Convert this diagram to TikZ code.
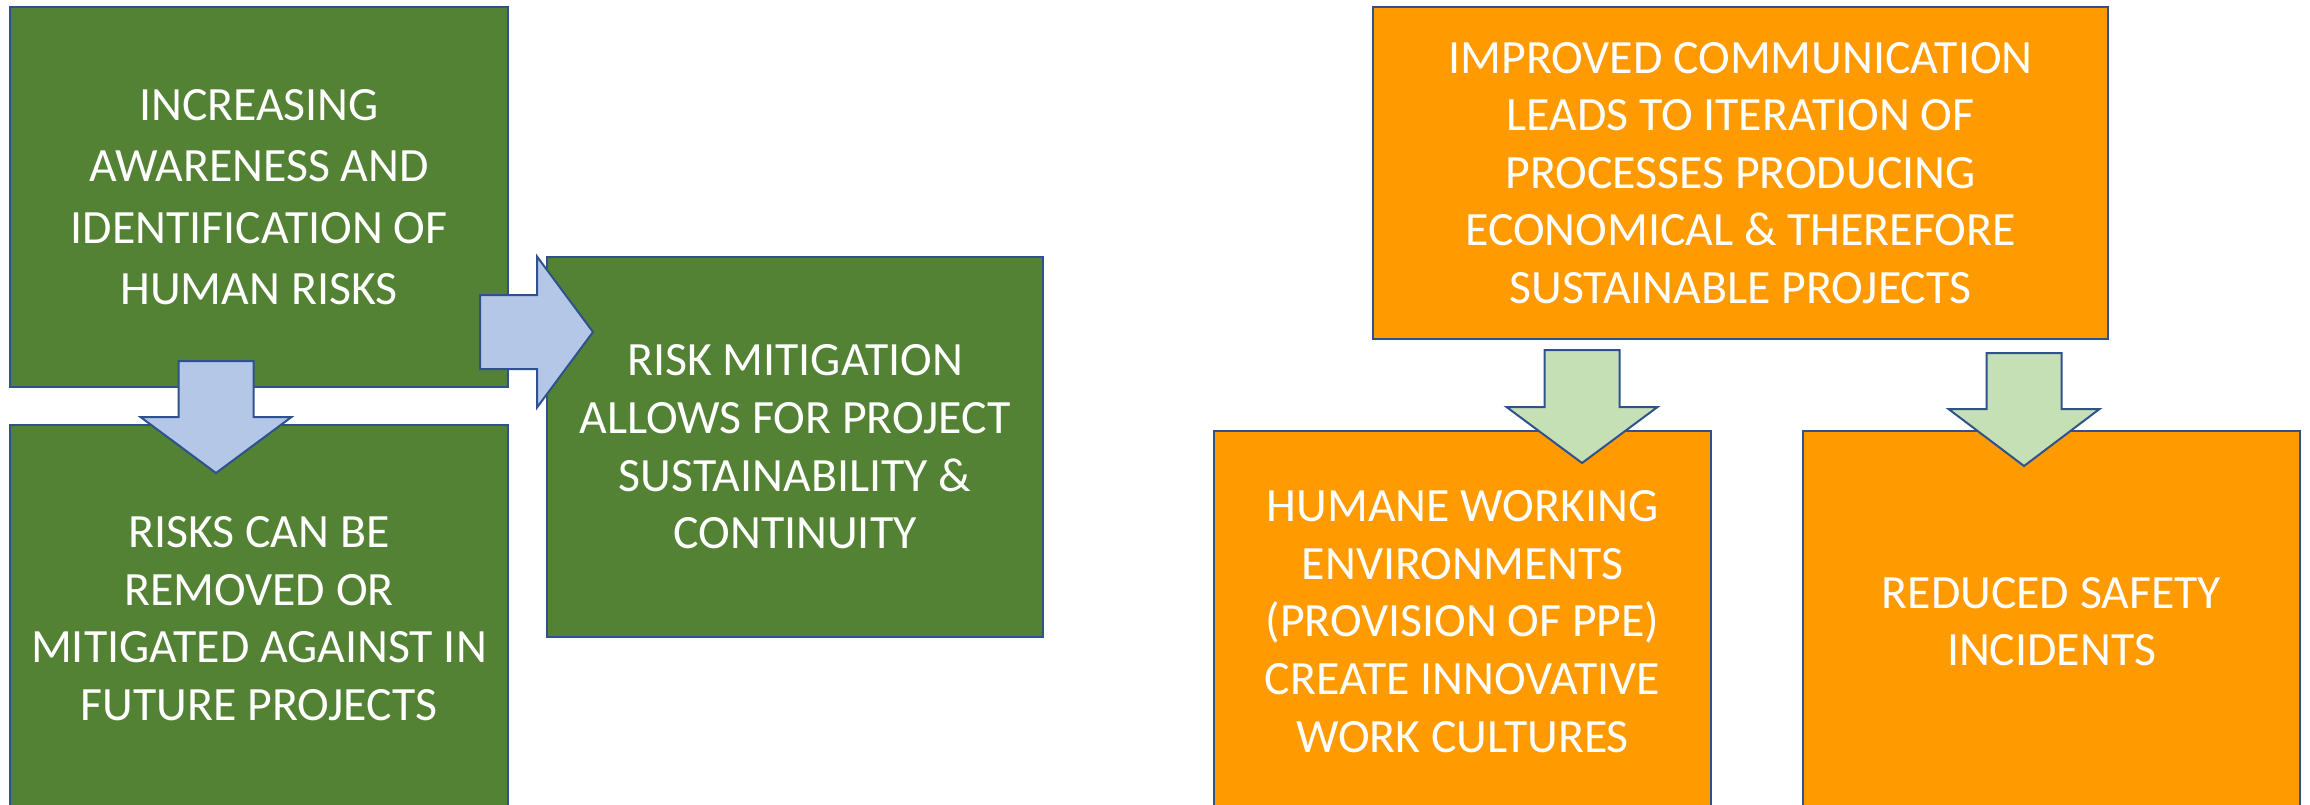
\documentclass[tikz,border=0pt]{standalone}
\usepackage{fontspec}
\setmainfont{Carlito}
\definecolor{leafgreen}{HTML}{548235}
\definecolor{amber}{HTML}{FF9A00}
\definecolor{edgeblue}{HTML}{2F528F}
\definecolor{paleblue}{HTML}{B4C7E7}
\definecolor{palegreen}{HTML}{C5E0B4}
\tikzset{
	box/.style={draw=edgeblue, line width=0.2mm, text=white, align=center, inner sep=0pt,
		font=\fontsize{13.6}{16.4}\selectfont},
	greenbox/.style={box, fill=leafgreen},
	orangebox/.style={box, fill=amber},
	fatarrow/.style={draw=edgeblue, line width=0.2mm, line join=miter},
}
\begin{document}
\begin{tikzpicture}[x=0.1mm, y=-0.1mm]
	\useasboundingbox (0,0) rectangle (2310,805);
	%左の箱
	\node[greenbox, minimum width=49.8mm, minimum height=38mm,
		font=\fontsize{13.6}{17.5}\selectfont] (aware) at (259,197)
		{INCREASING\\AWARENESS AND\\IDENTIFICATION OF\\HUMAN RISKS};
	\node[greenbox, minimum width=49.8mm, minimum height=38.7mm] (removed) at (259,618.5)
		{RISKS CAN BE\\REMOVED OR\\MITIGATED AGAINST IN\\FUTURE PROJECTS};
	\node[greenbox, minimum width=49.6mm, minimum height=38mm] (mitigate) at (795,447)
		{RISK MITIGATION\\ALLOWS FOR PROJECT\\SUSTAINABILITY \&\\CONTINUITY};
	%右の箱
	\node[orangebox, minimum width=73.5mm, minimum height=33.2mm] (comm) at (1740.5,173)
		{IMPROVED COMMUNICATION\\LEADS TO ITERATION OF\\PROCESSES PRODUCING\\ECONOMICAL \& THEREFORE\\SUSTAINABLE PROJECTS};
	\node[orangebox, minimum width=49.7mm, minimum height=38.1mm] (humane) at (1462.5,621.5)
		{HUMANE WORKING\\ENVIRONMENTS\\(PROVISION OF PPE)\\CREATE INNOVATIVE\\WORK CULTURES};
	\node[orangebox, minimum width=49.7mm, minimum height=38.1mm] (safety) at (2051.5,621.5)
		{REDUCED SAFETY\\INCIDENTS};
	%矢印（青）
	\path (216,361) coordinate (downA);
	\draw[fatarrow, fill=paleblue] (downA) ++(-37.5,0) -- ++(75,0) -- ++(0,56) -- ++(38,0)
		-- ++(-75.5,56) -- ++(-75.5,-56) -- ++(38,0) -- cycle;
	\path (480,332) coordinate (rightA);
	\draw[fatarrow, fill=paleblue] (rightA) ++(0,-37) -- ++(57,0) -- ++(0,-38.5)
		-- ++(56,75.5) -- ++(-56,75.5) -- ++(0,-38.5) -- ++(-57,0) -- cycle;
	%矢印（緑）
	\path (1582,350) coordinate (downB);
	\draw[fatarrow, fill=palegreen] (downB) ++(-37.5,0) -- ++(75,0) -- ++(0,57) -- ++(38,0)
		-- ++(-75.5,56) -- ++(-75.5,-56) -- ++(38,0) -- cycle;
	\path (2024,353) coordinate (downC);
	\draw[fatarrow, fill=palegreen] (downC) ++(-37.5,0) -- ++(75,0) -- ++(0,56) -- ++(38,0)
		-- ++(-75.5,57) -- ++(-75.5,-57) -- ++(38,0) -- cycle;
\end{tikzpicture}
\end{document}
